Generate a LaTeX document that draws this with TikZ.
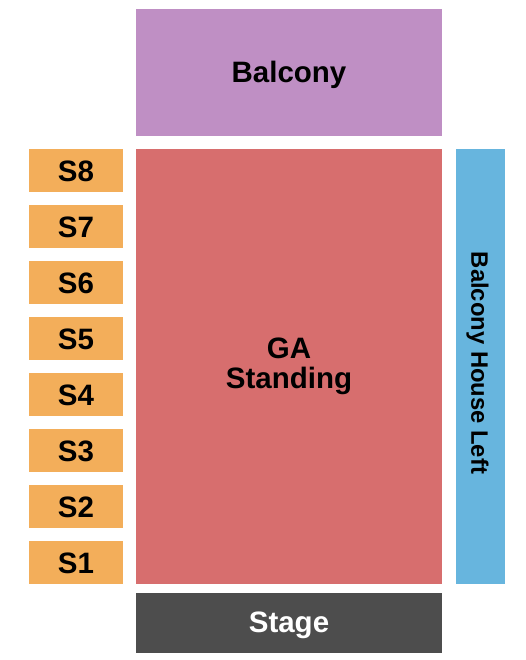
\documentclass[tikz,border=0pt]{standalone}
\usepackage{fontspec}
\setmainfont{Liberation Sans}
\newcommand{\lowerby}[2]{\raisebox{-#1}[\height][\depth]{#2}}
\begin{document}
\begin{tikzpicture}[x=1pt,y=-1pt,
  area/.style={draw=none,inner sep=0pt,font=\bfseries\fontsize{29.5}{29.5}\selectfont,align=center},
  sbox/.style={area,fill=sorange,minimum width=94pt,minimum height=43pt}]
\definecolor{balc}{HTML}{BF8FC4}
\definecolor{ga}{HTML}{D76E6E}
\definecolor{hl}{HTML}{67B5DE}
\definecolor{sorange}{HTML}{F3AE5A}
\definecolor{stg}{HTML}{4D4D4D}
\useasboundingbox (0,0) rectangle (525,660);
\fill[white] (0,0) rectangle (525,660);
\node[area,fill=balc,minimum width=306pt,minimum height=127pt] (balcony) at (289,72.5) {\lowerby{2pt}{Balcony}};
\node[area,fill=ga,minimum width=306pt,minimum height=435pt] (ga) at (289,366.5) {GA\\Standing};
\node[area,fill=hl,minimum width=49pt,minimum height=435pt] (bhl) at (480.5,366.5) {};
\node[font=\bfseries\fontsize{23.8}{24}\selectfont,rotate=-90,inner sep=0pt] (bhltext) at (477.5,363) {Balcony House Left};
\node[area,fill=stg,text=white,minimum width=306pt,minimum height=60pt] (stage) at (289,623) {\lowerby{2.5pt}{Stage}};
\foreach \i/\y in {8/170.5,7/226.5,6/282.5,5/338.5,4/394.5,3/450.5,2/506.5,1/562.5}{
  \node[sbox] (s\i) at (76,\y) {\lowerby{1pt}{S\i}};
}
\end{tikzpicture}
\end{document}
